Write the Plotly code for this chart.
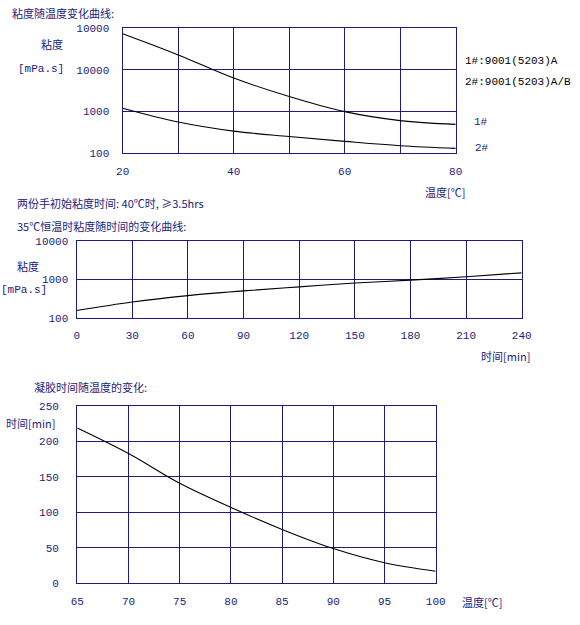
import plotly.graph_objects as go

W, H = 580, 625
NAVY = "#1c1c7c"
NUM_FONT = "Liberation Mono, Noto Sans CJK SC"
CJK_FONT = "Noto Sans CJK SC, Liberation Mono"

# chart 1: viscosity vs temperature (log scale)
temp_c = [20, 30, 40, 50, 60, 70, 80]
visc_1 = [74000, 23000, 6400, 2300, 1000, 610, 495]
visc_2 = [1210, 565, 341, 252, 193, 152, 131]
temp_ticks = [20, 30, 40, 50, 60, 70, 80]
temp_ticktext = ["20", "", "40", "", "60", "", "80"]
visc_ticks = [100, 1000, 10000, 100000]
visc_ticktext = ["100", "1000", "10000", "10000"]

# chart 2: viscosity vs time at 35C
time_min = [0, 30, 60, 90, 120, 150, 180, 210, 240]
visc_35 = [159, 264, 385, 509, 647, 813, 961, 1178, 1486]
time_ticks = [0, 30, 60, 90, 120, 150, 180, 210, 240]
visc35_ticks = [100, 1000, 10000]
visc35_ticktext = ["100", "1000", "10000"]

# chart 3: gel time vs temperature
gel_temp = [65, 70, 75, 80, 85, 90, 95, 100]
gel_time = [219, 183, 141, 107, 76, 49, 29, 17]
gel_xticks = [65, 70, 75, 80, 85, 90, 95, 100]
gel_yticks = [0, 50, 100, 150, 200, 250]


def px_x(v):
    return v / W


def px_y(v):
    return 1 - v / H


def axis(dom, anchor, standoff, **kw):
    return dict(
        domain=dom, anchor=anchor,
        showgrid=True, gridcolor=NAVY, gridwidth=1.4,
        showline=True, linecolor=NAVY, linewidth=1.4, mirror=True,
        zeroline=False, ticks="", fixedrange=True,
        ticklabelstandoff=standoff,
        tickfont=dict(family=NUM_FONT, size=11, color=NAVY),
        **kw
    )


fig = go.Figure()
line = dict(color="black", width=1.1, shape="spline")

fig.add_trace(go.Scatter(x=temp_c, y=visc_1, mode="lines", line=line, xaxis="x", yaxis="y"))
fig.add_trace(go.Scatter(x=temp_c, y=visc_2, mode="lines", line=line, xaxis="x", yaxis="y"))
fig.add_trace(go.Scatter(x=time_min, y=visc_35, mode="lines", line=line, xaxis="x2", yaxis="y2"))
fig.add_trace(go.Scatter(x=gel_temp, y=gel_time, mode="lines", line=line, xaxis="x3", yaxis="y3"))

fig.update_layout(
    width=W, height=H,
    margin=dict(l=0, r=0, t=0, b=0, autoexpand=False),
    paper_bgcolor="white", plot_bgcolor="white",
    showlegend=False,
    font=dict(family=CJK_FONT, size=12, color=NAVY),
    xaxis=axis([px_x(122.7), px_x(455.7)], "y", 7,
               range=[20, 80], tickmode="array",
               tickvals=temp_ticks, ticktext=temp_ticktext),
    yaxis=axis([px_y(153.3), px_y(28.3)], "x", 10,
               type="log", range=[2, 5], tickmode="array",
               tickvals=visc_ticks, ticktext=visc_ticktext),
    xaxis2=axis([px_x(76.7), px_x(521.7)], "y2", 6,
                range=[0, 240], tickmode="array", tickvals=time_ticks),
    yaxis2=axis([px_y(318.3), px_y(240.7)], "x2", 5,
                type="log", range=[2, 4], tickmode="array",
                tickvals=visc35_ticks, ticktext=visc35_ticktext),
    xaxis3=axis([px_x(77.3), px_x(435.7)], "y3", 7,
                range=[65, 100], tickmode="array", tickvals=gel_xticks),
    yaxis3=axis([px_y(583.3), px_y(406)], "x3", 15,
                range=[0, 250], tickmode="array", tickvals=gel_yticks),
)

# text labels placed by pixel position
labels = [
    ("粘度随温度变化曲线:", 10, 13, "left", NAVY),
    ("粘度", 52, 44, "center", NAVY),
    ("[mPa.s]", 41, 69, "center", NAVY),
    ("1#:9001(5203)A", 463, 61, "left", "black"),
    ("2#:9001(5203)A/B", 463, 82, "left", "black"),
    ("1#", 472, 122, "left", NAVY),
    ("2#", 473, 148, "left", NAVY),
    ("温度[℃]", 445, 192, "center", NAVY),
    ("两份手初始粘度时间: 40℃时, ≥3.5hrs", 15, 203, "left", NAVY),
    ("35℃恒温时粘度随时间的变化曲线:", 15, 226, "left", NAVY),
    ("粘度", 28, 266, "center", NAVY),
    ("[mPa.s]", 24, 290, "center", NAVY),
    ("时间[min]", 505, 356, "center", NAVY),
    ("凝胶时间随温度的变化:", 32, 387, "left", NAVY),
    ("时间[min]", 30, 423, "center", NAVY),
    ("温度[℃]", 482, 602, "center", NAVY),
]
for text, x, y, anchor, color in labels:
    fig.add_annotation(
        text=text, x=px_x(x), y=px_y(y), xref="paper", yref="paper",
        xanchor=anchor, yanchor="middle", showarrow=False,
        font=dict(family=CJK_FONT if any(ord(c) > 127 for c in text) else NUM_FONT,
                  size=11, color=color),
    )

# drop the default page margin so the figure sits at the window corner
fig.write_html(
    "out.html",
    config={"displayModeBar": False},
    post_script="document.body.style.margin='0px';",
)
